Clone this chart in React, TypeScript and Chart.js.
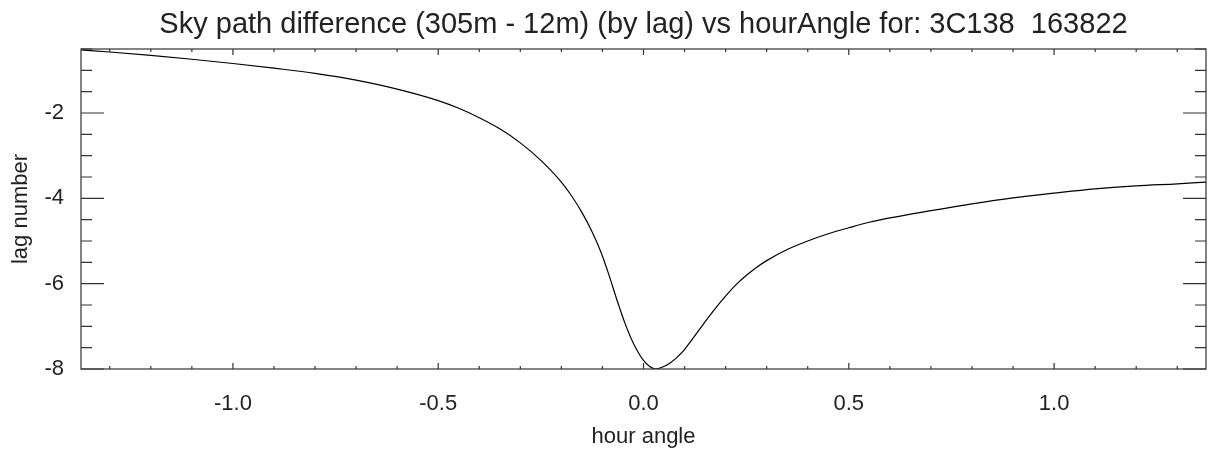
import { useEffect, useRef } from 'react';
import { Chart, registerables } from 'chart.js';

Chart.register(...registerables);

const titleText = 'Sky path difference (305m - 12m) (by lag) vs hourAngle for: 3C138  163822';
const xTitle = 'hour angle';
const yTitle = 'lag number';

const hourAngle = [
  -1.37, -1.3, -1.2, -1.1, -1.0, -0.9, -0.8, -0.7, -0.6, -0.5, -0.45, -0.4, -0.35, -0.3, -0.25,
  -0.2, -0.175, -0.15, -0.125, -0.105, -0.085, -0.065, -0.045, -0.025, 0.0, 0.015, 0.03, 0.045,
  0.065, 0.095, 0.115, 0.138, 0.158, 0.179, 0.2, 0.225, 0.25, 0.275, 0.3, 0.35, 0.4, 0.45, 0.5,
  0.55, 0.6, 0.7, 0.8, 0.9, 1.0, 1.1, 1.2, 1.3, 1.37,
];
const lagNumber = [
  -0.52, -0.57, -0.65, -0.74, -0.84, -0.95, -1.07, -1.23, -1.44, -1.71, -1.89, -2.11, -2.37, -2.7,
  -3.11, -3.62, -3.945, -4.33, -4.79, -5.23, -5.77, -6.37, -6.93, -7.39, -7.8, -7.94, -8.0, -7.96,
  -7.86, -7.6, -7.35, -7.05, -6.79, -6.53, -6.29, -6.03, -5.81, -5.62, -5.46, -5.2, -5.0, -4.83,
  -4.69, -4.56, -4.46, -4.29, -4.13, -3.99, -3.88, -3.78, -3.71, -3.66, -3.62,
];
const xTickValues = [-1.0, -0.5, 0.0, 0.5, 1.0];
const yTickValues = [-8, -6, -4, -2];
const xRange = [-1.37, 1.37];
const yRange = [-8, -0.5];

const FONT = "'Liberation Sans', Arial, Helvetica, sans-serif";
const TEXT = '#222';

const frameTicks = {
  id: 'frameTicks',
  afterDatasetsDraw(chart: any) {
    const { ctx, chartArea, scales } = chart;
    const { left, right, top, bottom } = chartArea;
    const x = scales.x;
    const y = scales.y;
    ctx.save();
    ctx.strokeStyle = '#333';
    ctx.lineWidth = 1.2;
    ctx.strokeRect(left, top, right - left, bottom - top);
    ctx.beginPath();
    for (let i = -13; i <= 13; i++) {
      const px = x.getPixelForValue(i / 10);
      const len = i % 5 === 0 ? 6 : 3;
      ctx.moveTo(px, bottom);
      ctx.lineTo(px, bottom - len);
      ctx.moveTo(px, top);
      ctx.lineTo(px, top + len);
    }
    for (let i = -16; i <= -1; i++) {
      const py = y.getPixelForValue(i / 2);
      const len = i % 4 === 0 ? 23 : 11;
      ctx.moveTo(left, py);
      ctx.lineTo(left + len, py);
      ctx.moveTo(right, py);
      ctx.lineTo(right - len, py);
    }
    ctx.stroke();
    // title centred over the plot area
    ctx.fillStyle = TEXT;
    ctx.font = `29px ${FONT}`;
    ctx.textAlign = 'center';
    ctx.textBaseline = 'alphabetic';
    ctx.fillText(titleText, (left + right) / 2, 33);
    ctx.restore();
  },
};

export default function App() {
  const ref = useRef<HTMLCanvasElement | null>(null);
  useEffect(() => {
    if (!ref.current) return;
    const chart = new Chart(ref.current, {
      type: 'line',
      data: {
        datasets: [
          {
            data: hourAngle.map((h, i) => ({ x: h, y: lagNumber[i] })),
            borderColor: '#000',
            borderWidth: 1.2,
            pointRadius: 0,
            fill: false,
            cubicInterpolationMode: 'monotone',
          },
        ],
      },
      options: {
        animation: false,
        responsive: true,
        maintainAspectRatio: false,
        layout: { padding: { left: 0, right: 6, top: 49, bottom: 0 } },
        plugins: {
          legend: { display: false },
          tooltip: { enabled: false },
          title: { display: false },
        },
        scales: {
          x: {
            type: 'linear',
            min: xRange[0],
            max: xRange[1],
            grid: { display: false },
            border: { display: false },
            afterBuildTicks: (s: any) => {
              s.ticks = xTickValues.map((v) => ({ value: v }));
            },
            afterFit: (s: any) => {
              s.height = 81;
            },
            ticks: {
              color: TEXT,
              font: { family: FONT, size: 22 },
              padding: 14,
              maxRotation: 0,
              callback: (v: any) => Number(v).toFixed(1),
            },
            title: {
              display: true,
              text: xTitle,
              color: TEXT,
              font: { family: FONT, size: 22 },
              padding: { top: 0, bottom: 0 },
            },
          },
          y: {
            type: 'linear',
            min: yRange[0],
            max: yRange[1],
            grid: { display: false },
            border: { display: false },
            afterBuildTicks: (s: any) => {
              s.ticks = yTickValues.map((v) => ({ value: v }));
            },
            afterFit: (s: any) => {
              s.width = 81;
            },
            ticks: {
              color: TEXT,
              font: { family: FONT, size: 22 },
              padding: 9,
              callback: (v: any) => String(v),
            },
            title: {
              display: true,
              text: yTitle,
              color: TEXT,
              font: { family: FONT, size: 22 },
              padding: { top: 8, bottom: 0 },
            },
          },
        },
      },
      plugins: [frameTicks],
    } as any);
    return () => chart.destroy();
  }, []);
  return (
    <div style={{ position: 'fixed', left: 0, top: 0, width: 1212, height: 450, background: '#fff' }}>
      <canvas ref={ref} />
    </div>
  );
}
